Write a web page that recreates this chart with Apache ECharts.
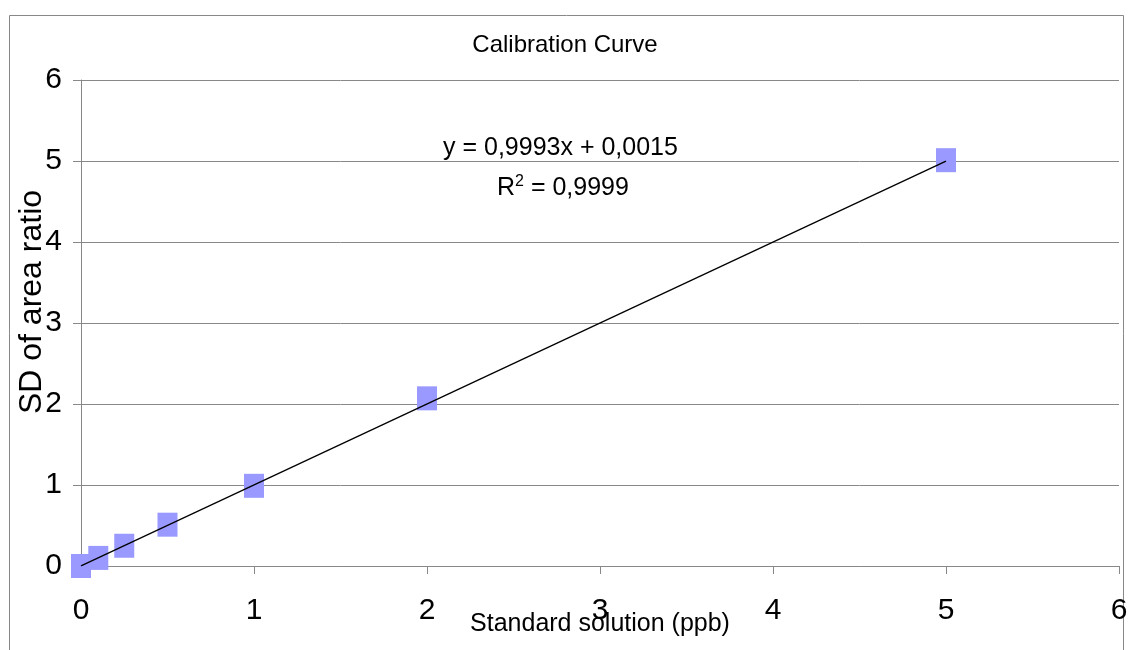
<!DOCTYPE html>
<html>
<head>
<meta charset="utf-8">
<script src="https://cdn.jsdelivr.net/npm/echarts@6/dist/echarts.min.js"></script>
<style>
  html, body { margin: 0; padding: 0; background: #fff; }
  #main { width: 1130px; height: 650px; }
</style>
</head>
<body>
<div id="main"></div>
<script>
// standard concentrations (ppb) and measured area ratio
var concX = [0, 0.1, 0.25, 0.5, 1, 2, 5];
var ratioY = [0, 0.1, 0.25, 0.51, 0.99, 2.07, 5.01];
// linear trendline ends, from y = 0,9993x + 0,0015
var trendX = [0, 5];
var trendY = [0.0015, 4.998];
var xTicks = [0, 1, 2, 3, 4, 5, 6];
var yTicks = [0, 1, 2, 3, 4, 5, 6];

var font = "'Liberation Sans', Arial, sans-serif";
var gray = '#888888';

var chart = echarts.init(document.getElementById('main'));

chart.setOption({
  animation: false,
  backgroundColor: '#ffffff',
  title: {
    text: 'Calibration Curve',
    left: 'center',
    top: 28,
    textStyle: {
      fontFamily: font,
      fontSize: 24,
      fontWeight: 'normal',
      color: '#000'
    }
  },
  grid: {
    left: 81,
    right: 11,
    top: 80,
    bottom: 84,
    outerBoundsMode: 'none',
    containLabel: false
  },
  xAxis: {
    type: 'value',
    min: xTicks[0],
    max: xTicks[xTicks.length - 1],
    interval: 1,
    name: 'Standard solution (ppb)',
    nameLocation: 'middle',
    nameGap: 46,
    nameMoveOverlap: false,
    nameTextStyle: {
      fontFamily: font,
      fontSize: 25,
      color: '#000'
    },
    axisLine: { lineStyle: { color: gray, width: 1 } },
    axisTick: { show: true, length: 8, lineStyle: { color: gray } },
    axisLabel: {
      margin: 30,
      fontFamily: font,
      fontSize: 30,
      color: '#000'
    },
    splitLine: { show: false }
  },
  yAxis: {
    type: 'value',
    min: yTicks[0],
    max: yTicks[yTicks.length - 1],
    interval: 1,
    name: 'SD of area ratio',
    nameLocation: 'middle',
    nameGap: 33,
    nameMoveOverlap: false,
    nameTextStyle: {
      fontFamily: font,
      fontSize: 32,
      color: '#000',
      padding: [0, 0, 0, 42]
    },
    axisLine: { show: true, lineStyle: { color: gray, width: 1 } },
    axisTick: { show: true, length: 8, lineStyle: { color: gray } },
    axisLabel: {
      margin: 19,
      fontFamily: font,
      fontSize: 30,
      color: '#000'
    },
    splitLine: { show: true, lineStyle: { color: gray, width: 1 } }
  },
  graphic: [
    {
      // outer chart frame
      type: 'rect',
      silent: true,
      shape: { x: 9.5, y: 15.5, width: 1114, height: 660 },
      style: { fill: 'none', stroke: gray, lineWidth: 1 }
    },
    {
      type: 'text',
      left: 443,
      top: 136,
      style: {
        text: 'y = 0,9993x + 0,0015',
        font: '25px ' + font,
        fill: '#000'
      }
    },
    {
      type: 'text',
      left: 497,
      top: 174,
      style: {
        text: 'R{sup|2} = 0,9999',
        font: '25px ' + font,
        fill: '#000',
        rich: {
          sup: { fontSize: 16, fontFamily: font, verticalAlign: 'top', padding: [0, 0, 12, 0] }
        }
      }
    }
  ],
  series: [
    {
      // trendline
      type: 'line',
      data: trendX.map(function (x, i) { return [x, trendY[i]]; }),
      showSymbol: false,
      symbol: 'none',
      lineStyle: { color: '#000', width: 1.3 },
      z: 3
    },
    {
      type: 'scatter',
      data: concX.map(function (x, i) { return [x, ratioY[i]]; }),
      symbol: 'rect',
      symbolSize: [20, 24],
      itemStyle: { color: '#9999ff', opacity: 1 },
      z: 2
    }
  ]
});
</script>
</body>
</html>
